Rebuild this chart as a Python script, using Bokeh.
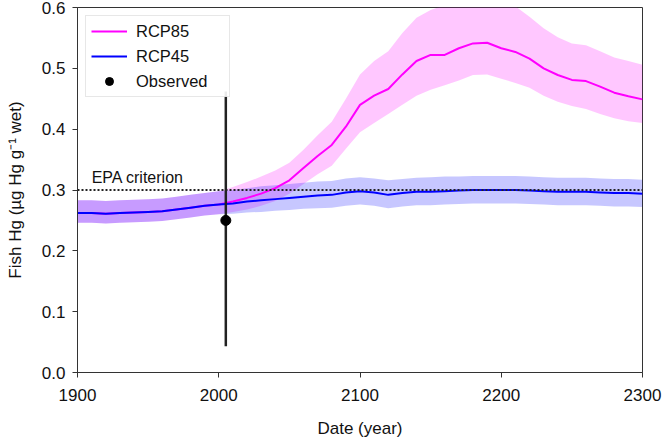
from bokeh.plotting import figure
from bokeh.models import Span, Label, FixedTicker, NumeralTickFormatter, Range1d
from bokeh.embed import file_html
from bokeh.resources import INLINE

years = [1900, 1910, 1920, 1930, 1940, 1950, 1960, 1970, 1980, 1990,
         2000, 2010, 2020, 2030, 2040, 2050, 2060, 2070, 2080, 2090,
         2100, 2110, 2120, 2130, 2140, 2150, 2160, 2170, 2180, 2190,
         2200, 2210, 2220, 2230, 2240, 2250, 2260, 2270, 2280, 2290, 2300]

rcp85_mean = [0.262, 0.262, 0.261, 0.262, 0.263, 0.264, 0.265, 0.268, 0.271, 0.274,
              0.276, 0.281, 0.287, 0.294, 0.303, 0.316, 0.336, 0.356, 0.374, 0.404,
              0.440, 0.455, 0.466, 0.490, 0.512, 0.522, 0.522, 0.533, 0.541, 0.542,
              0.533, 0.527, 0.516, 0.500, 0.489, 0.481, 0.479, 0.470, 0.460, 0.454, 0.449]
rcp85_upper = [0.283, 0.283, 0.282, 0.283, 0.284, 0.285, 0.286, 0.289, 0.292, 0.295,
               0.298, 0.305, 0.313, 0.322, 0.332, 0.345, 0.366, 0.390, 0.412, 0.450,
               0.490, 0.512, 0.528, 0.558, 0.583, 0.596, 0.604, 0.612, 0.615, 0.615,
               0.610, 0.602, 0.585, 0.566, 0.551, 0.541, 0.538, 0.528, 0.518, 0.512, 0.506]
rcp85_lower = [0.246, 0.246, 0.245, 0.246, 0.247, 0.248, 0.249, 0.252, 0.255, 0.258,
               0.260, 0.264, 0.268, 0.274, 0.282, 0.294, 0.310, 0.326, 0.340, 0.368,
               0.395, 0.410, 0.425, 0.440, 0.455, 0.465, 0.472, 0.480, 0.489, 0.490,
               0.483, 0.476, 0.468, 0.455, 0.445, 0.438, 0.433, 0.425, 0.418, 0.413, 0.410]

rcp45_mean = [0.262, 0.262, 0.261, 0.262, 0.263, 0.264, 0.265, 0.268, 0.271, 0.274,
              0.276, 0.278, 0.281, 0.283, 0.285, 0.287, 0.289, 0.291, 0.292, 0.296,
              0.298, 0.296, 0.292, 0.295, 0.297, 0.297, 0.298, 0.299, 0.300, 0.300,
              0.300, 0.300, 0.299, 0.298, 0.297, 0.297, 0.297, 0.296, 0.295, 0.295, 0.294]
rcp45_upper = [0.283, 0.283, 0.282, 0.283, 0.284, 0.285, 0.286, 0.289, 0.292, 0.295,
               0.298, 0.300, 0.303, 0.306, 0.308, 0.310, 0.312, 0.314, 0.315, 0.319,
               0.321, 0.319, 0.316, 0.318, 0.320, 0.321, 0.322, 0.322, 0.323, 0.323,
               0.323, 0.323, 0.322, 0.321, 0.320, 0.320, 0.320, 0.319, 0.318, 0.318, 0.317]
rcp45_lower = [0.246, 0.246, 0.245, 0.246, 0.247, 0.248, 0.249, 0.252, 0.255, 0.258,
               0.260, 0.261, 0.263, 0.264, 0.266, 0.267, 0.269, 0.270, 0.271, 0.274,
               0.276, 0.274, 0.270, 0.273, 0.275, 0.275, 0.276, 0.277, 0.278, 0.278,
               0.278, 0.278, 0.277, 0.276, 0.275, 0.275, 0.275, 0.274, 0.273, 0.273, 0.272]

obs_year = [2005]
obs_value = [0.25]
obs_low = [0.043]
obs_high = [0.462]

epa_criterion = 0.3

x_ticks = [1900, 2000, 2100, 2200, 2300]
y_ticks = [0.0, 0.1, 0.2, 0.3, 0.4, 0.5, 0.6]

FONT = "Liberation Sans"

p = figure(width=662, height=440, output_backend="svg", toolbar_location=None,
           x_range=Range1d(1900, 2300), y_range=Range1d(0.0, 0.6),
           min_border_left=77, min_border_right=20, min_border_top=7, min_border_bottom=66)

p.grid.visible = False
p.outline_line_color = "#333333"
p.outline_line_width = 1
p.background_fill_color = "white"
p.border_fill_color = "white"

p.varea(x=years, y1=rcp85_lower, y2=rcp85_upper, fill_color="#ff00ff", fill_alpha=0.22)
p.varea(x=years, y1=rcp45_lower, y2=rcp45_upper, fill_color="#0000ff", fill_alpha=0.22)

p.line(years, rcp85_mean, line_color="#ff00ff", line_width=2, legend_label="RCP85")
p.line(years, rcp45_mean, line_color="#0000ff", line_width=2, legend_label="RCP45")

p.add_layout(Span(location=epa_criterion, dimension="width", line_color="#222222",
                  line_width=2, line_dash="2 2"))
p.add_layout(Label(x=1910, y=0.3, y_offset=4, text="EPA criterion",
                   text_font=FONT, text_font_size="16px", text_color="#111111",
                   text_baseline="bottom"))

p.segment(x0=obs_year, y0=obs_low, x1=obs_year, y1=obs_high, line_color="#222222", line_width=2.5)
p.scatter(obs_year, obs_value, size=10, color="black", legend_label="Observed")

for ax in (p.xaxis[0], p.yaxis[0]):
    ax.axis_line_color = "#333333"
    ax.major_tick_line_color = "#333333"
    ax.major_tick_in = 0
    ax.major_tick_out = 5
    ax.minor_tick_line_color = None
    ax.major_label_text_font = FONT
    ax.major_label_text_font_size = "17px"
    ax.major_label_text_color = "#111111"
    ax.axis_label_text_font = FONT
    ax.axis_label_text_font_size = "17px"
    ax.axis_label_text_font_style = "normal"
    ax.axis_label_text_color = "#111111"

p.xaxis.ticker = FixedTicker(ticks=x_ticks)
p.yaxis.ticker = FixedTicker(ticks=y_ticks)
p.yaxis.formatter = NumeralTickFormatter(format="0.0")
p.xaxis.major_label_standoff = 11
p.yaxis.major_label_standoff = 7
p.xaxis.axis_label = "Date (year)"
p.yaxis.axis_label = "Fish Hg (µg Hg g⁻¹ wet)"
p.xaxis.axis_label_standoff = 15
p.yaxis.axis_label_standoff = 14

lg = p.legend[0]
lg.location = "top_left"
lg.margin = 8
lg.padding = 5
lg.spacing = 5
lg.glyph_width = 36
lg.glyph_height = 20
lg.label_height = 20
lg.label_width = 88
lg.label_standoff = 9
lg.label_text_font = FONT
lg.label_text_font_size = "16.5px"
lg.label_text_color = "#111111"
lg.border_line_color = "#d0d0d0"
lg.border_line_width = 1
lg.background_fill_alpha = 0.9

open("out.html", "w").write(file_html(p, INLINE))
